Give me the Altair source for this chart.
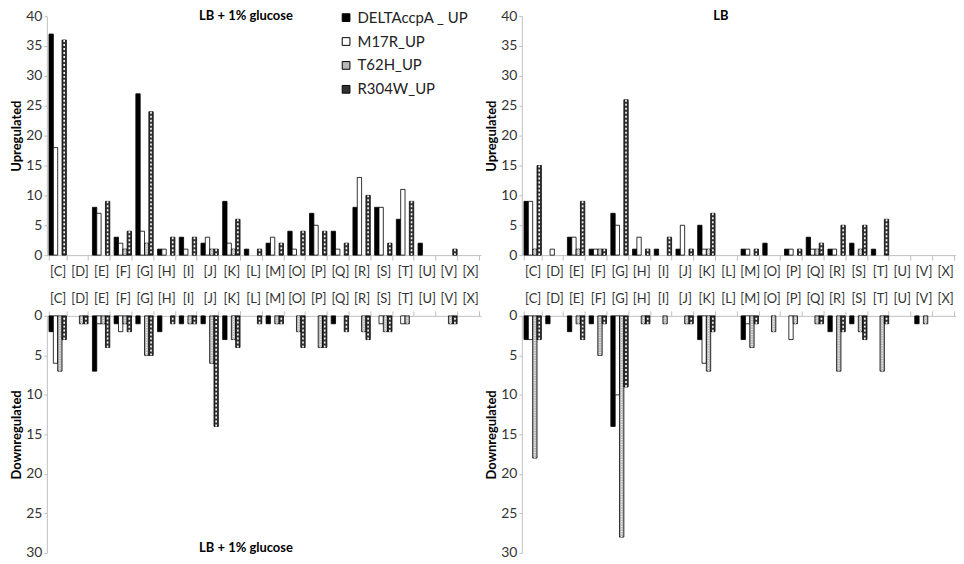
import altair as alt
import pandas as pd

categories = ["C", "D", "E", "F", "G", "H", "I", "J", "K", "L",
              "M", "O", "P", "Q", "R", "S", "T", "U", "V", "X"]
cat_labels = ["[" + c + "]" for c in categories]
series = ["DELTAccpA _ UP", "M17R_UP", "T62H_UP", "R304W_UP"]
fills = ["#000000", "#ffffff", "#b8b8b8", "#333333"]

# LB + 1% glucose, upregulated
glc_up_delta = [37, 0, 8, 3, 27, 1, 3, 2, 9, 1, 2, 4, 7, 4, 8, 8, 6, 2, 0, 0]
glc_up_m17r = [18, 0, 7, 2, 4, 1, 1, 3, 2, 0, 3, 1, 5, 1, 13, 8, 11, 0, 0, 0]
glc_up_t62h = [0, 0, 0, 1, 2, 0, 0, 1, 1, 0, 0, 0, 0, 0, 0, 0, 0, 0, 0, 0]
glc_up_r304w = [36, 0, 9, 4, 24, 3, 3, 1, 6, 1, 2, 4, 4, 2, 10, 2, 9, 0, 1, 0]

# LB, upregulated
lb_up_delta = [9, 0, 3, 1, 7, 1, 1, 1, 5, 0, 1, 2, 1, 3, 1, 2, 1, 0, 0, 0]
lb_up_m17r = [9, 1, 3, 1, 5, 3, 0, 5, 1, 0, 1, 0, 1, 1, 1, 0, 0, 0, 0, 0]
lb_up_t62h = [1, 0, 1, 1, 0, 0, 0, 0, 1, 0, 0, 0, 0, 1, 0, 1, 0, 0, 0, 0]
lb_up_r304w = [15, 0, 9, 1, 26, 1, 3, 1, 7, 0, 1, 0, 1, 2, 5, 5, 6, 0, 0, 0]

# LB + 1% glucose, downregulated
glc_dn_delta = [2, 0, 7, 1, 1, 2, 1, 1, 3, 0, 1, 0, 0, 1, 0, 0, 0, 0, 0, 0]
glc_dn_m17r = [6, 0, 1, 2, 0, 0, 0, 0, 0, 0, 0, 0, 0, 0, 0, 1, 1, 0, 0, 0]
glc_dn_t62h = [7, 1, 1, 1, 5, 0, 1, 6, 3, 0, 1, 2, 4, 0, 2, 2, 1, 0, 1, 0]
glc_dn_r304w = [3, 1, 4, 2, 5, 1, 1, 14, 4, 1, 1, 4, 4, 2, 3, 2, 0, 0, 1, 0]

# LB, downregulated
lb_dn_delta = [3, 1, 2, 1, 14, 0, 0, 0, 3, 0, 3, 0, 0, 0, 2, 1, 0, 0, 1, 0]
lb_dn_m17r = [3, 0, 0, 0, 10, 0, 0, 0, 6, 0, 1, 0, 3, 0, 0, 0, 0, 0, 0, 0]
lb_dn_t62h = [18, 0, 1, 5, 28, 1, 1, 1, 7, 0, 4, 2, 1, 1, 7, 2, 7, 0, 1, 0]
lb_dn_r304w = [3, 0, 3, 1, 9, 1, 0, 1, 2, 0, 1, 0, 0, 1, 2, 3, 1, 0, 0, 0]

W = 436
H1 = 240
H2 = 238
FONT = "Lato"


def make_df(lists):
    rows = []
    for s, vals in zip(series, lists):
        for c, v in zip(cat_labels, vals):
            if v > 0:
                rows.append({"cat": c, "series": s, "value": v})
    return pd.DataFrame(rows)


def panel(lists, up, top_title=None, bottom_title=None, legend=False):
    df = make_df(lists)
    height = H1 if up else H2
    ymax = 40 if up else 30
    ytitle = "Upregulated" if up else "Downregulated"
    x_enc = alt.X("cat:N", sort=cat_labels,
                  scale=alt.Scale(domain=cat_labels, paddingInner=0.2, paddingOuter=0.1),
                  axis=alt.Axis(title=None, orient="bottom" if up else "top",
                                labelAngle=0, tickBand="extent", tickSize=5,
                                labelPadding=5, labelFontSize=13))
    xo_enc = alt.XOffset("series:N", sort=series,
                         scale=alt.Scale(domain=series, paddingInner=0, paddingOuter=0))
    y_enc = alt.Y("value:Q",
                  scale=alt.Scale(domain=[0, ymax], reverse=not up, nice=False),
                  axis=alt.Axis(title=ytitle, values=list(range(0, ymax + 1, 5)),
                                tickSize=3, labelPadding=2, labelFontSize=14,
                                titleFontSize=13, titleFontWeight="bold",
                                titlePadding=2))
    bars = alt.Chart(df).mark_bar(stroke="#000000", strokeWidth=0.8).encode(
        x=x_enc,
        xOffset=xo_enc,
        y=y_enc,
        fill=alt.Fill("series:N", sort=series,
                      scale=alt.Scale(domain=series, range=fills),
                      legend=alt.Legend(title=None) if legend else None),
    )
    # texture strokes: diagonal-like dashes for R304W, dots for T62H
    hatch = alt.Chart(df).transform_filter(
        alt.datum.series == series[3]
    ).mark_rule(color="#ffffff", strokeWidth=1.6, strokeDash=[2, 2]).encode(
        x=x_enc, xOffset=xo_enc, y=y_enc, y2=alt.datum(0)
    )
    dots = alt.Chart(df).transform_filter(
        alt.datum.series == series[2]
    ).mark_rule(color="#ffffff", strokeWidth=1.2, strokeDash=[1, 1.5]).encode(
        x=x_enc, xOffset=xo_enc, y=y_enc, y2=alt.datum(0)
    )
    layers = [bars, hatch, dots]
    if top_title:
        layers.append(
            alt.Chart(pd.DataFrame({"t": [top_title]})).mark_text(
                font=FONT, fontSize=13, fontWeight="bold", baseline="middle"
            ).encode(x=alt.value(200), y=alt.value(0), text="t")
        )
    if bottom_title:
        layers.append(
            alt.Chart(pd.DataFrame({"t": [bottom_title]})).mark_text(
                font=FONT, fontSize=13, fontWeight="bold", baseline="middle"
            ).encode(x=alt.value(200), y=alt.value(height - 5), text="t")
        )
    return alt.layer(*layers).properties(width=W, height=height)


tl = panel([glc_up_delta, glc_up_m17r, glc_up_t62h, glc_up_r304w], True,
           top_title="LB + 1% glucose", legend=True)
tr = panel([lb_up_delta, lb_up_m17r, lb_up_t62h, lb_up_r304w], True, top_title="LB")
bl = panel([glc_dn_delta, glc_dn_m17r, glc_dn_t62h, glc_dn_r304w], False,
           bottom_title="LB + 1% glucose")
br = panel([lb_dn_delta, lb_dn_m17r, lb_dn_t62h, lb_dn_r304w], False)

chart = alt.vconcat(
    alt.hconcat(tl, tr, spacing=4),
    alt.hconcat(bl, br, spacing=4),
    spacing=15,
).configure_view(stroke=None).configure_axis(
    grid=False, domainColor="#bfbfbf", tickColor="#bfbfbf",
    labelFont=FONT, titleFont=FONT, labelColor="#333333", titleColor="#000000"
).configure_legend(
    orient="none", legendX=293, legendY=-6, labelFont=FONT, labelFontSize=15,
    labelColor="#222222", symbolType="square", symbolSize=60,
    symbolStrokeColor="#000000", symbolStrokeWidth=1, rowPadding=8
).properties(padding={"left": 2, "top": 0, "right": 0, "bottom": 0})

chart.save("out.html", embed_options={"renderer": "svg", "actions": False})
